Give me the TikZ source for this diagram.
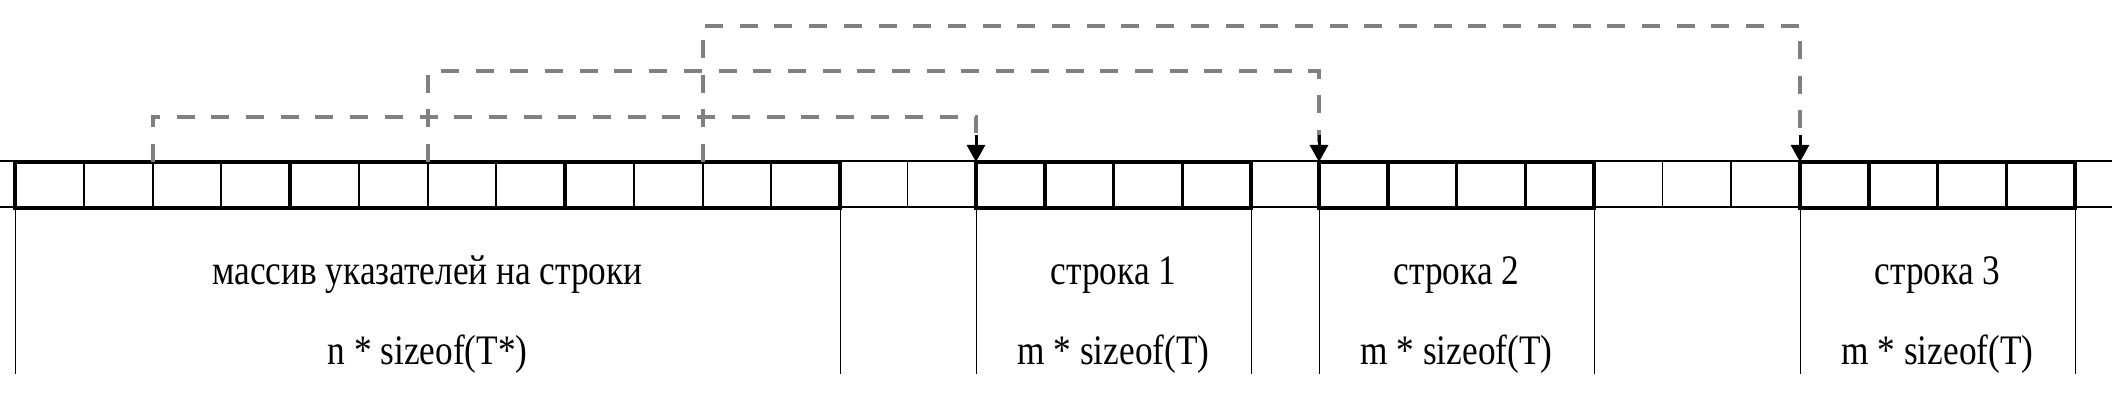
\documentclass[tikz,border=0pt]{standalone}
\usepackage{fontspec}
\setmainfont{Liberation Serif}
\usetikzlibrary{arrows.meta,calc}
\begin{document}
\begin{tikzpicture}[x=1pt,y=-1pt,
  tape/.style={line width=1.6pt,black},
  boldbox/.style={draw,line width=4.5pt,minimum height=46pt,minimum width=275pt,inner sep=0pt,outer sep=0pt,anchor=north west},
  thindiv/.style={line width=2pt},
  rowdiv/.style={line width=3.5pt},
  drop/.style={line width=1pt},
  ptr/.style={draw={rgb,255:red,128;green,128;blue,128},line width=4pt,dash pattern=on 18pt off 16.7pt},
  tip/.style={-{Triangle[width=18pt,length=17pt]},line width=3pt,black},
  lbl/.style={font=\fontsize{42}{50}\selectfont,anchor=base,inner sep=0pt,xscale=0.84},
]
\useasboundingbox (0,0) rectangle (2112,414);
% tape
\draw[tape] (0,161) -- (2112,161);
\draw[tape] (0,207) -- (2112,207);
\foreach \x in {907.5,1662.5,1731} \draw[tape] (\x,161) -- (\x,207);
% pointer array groups
\node[boldbox] (pg1) at (15,162) {};
\node[boldbox] (pg2) at (290,162) {};
\node[boldbox] (pg3) at (565,162) {};
\foreach \k in {1,2,3,5,6,7,9,10,11}
  \draw[thindiv] (15+68.75*\k,162) -- (15+68.75*\k,208);
\foreach \k in {0,...,12} \coordinate (pa\k) at (15+68.75*\k,162);
% rows
\node[boldbox] (r1) at (976,162) {};
\node[boldbox] (r2) at (1319,162) {};
\node[boldbox] (r3) at (1800,162) {};
\foreach \r in {r1,r2,r3}
  \foreach \k in {1,2,3}
    \draw[rowdiv] ($(\r.north west)!\k/4!(\r.north east)$) -- ($(\r.south west)!\k/4!(\r.south east)$);
% drops
\foreach \n in {pg1.south west,pg3.south east,r1.south west,r1.south east,r2.south west,r2.south east,r3.south west,r3.south east}
  \draw[drop] (\n) -- ++(0,166);
% labels
\node[lbl] (l0a) at (427.5,284) {массив указателей на строки};
\node[lbl] (l0b) at (427.5,364) {n * sizeof(T*)};
\node[lbl] (l1a) at (1113.5,284) {строка 1};
\node[lbl] (l1b) at (1113.5,364) {m * sizeof(T)};
\node[lbl] (l2a) at (1456.5,284) {строка 2};
\node[lbl] (l2b) at (1456.5,364) {m * sizeof(T)};
\node[lbl] (l3a) at (1937.5,284) {строка 3};
\node[lbl] (l3b) at (1937.5,364) {m * sizeof(T)};
% pointers
\coordinate (h1) at (976,116.7);
\coordinate (h2) at (1319,71.3);
\coordinate (h3) at (1800,25.7);
\draw[ptr] (pa2) |- (h1) -- ([yshift=20pt]r1.north west);
\draw[ptr] (pa6) |- (h2) -- ([yshift=20pt]r2.north west);
\draw[ptr] (pa10) |- (h3) -- ([yshift=20pt]r3.north west);
\draw[tip] ([yshift=27pt]r1.north west) -- (r1.north west);
\draw[tip] ([yshift=27pt]r2.north west) -- (r2.north west);
\draw[tip] ([yshift=27pt]r3.north west) -- (r3.north west);
\end{tikzpicture}
\end{document}
